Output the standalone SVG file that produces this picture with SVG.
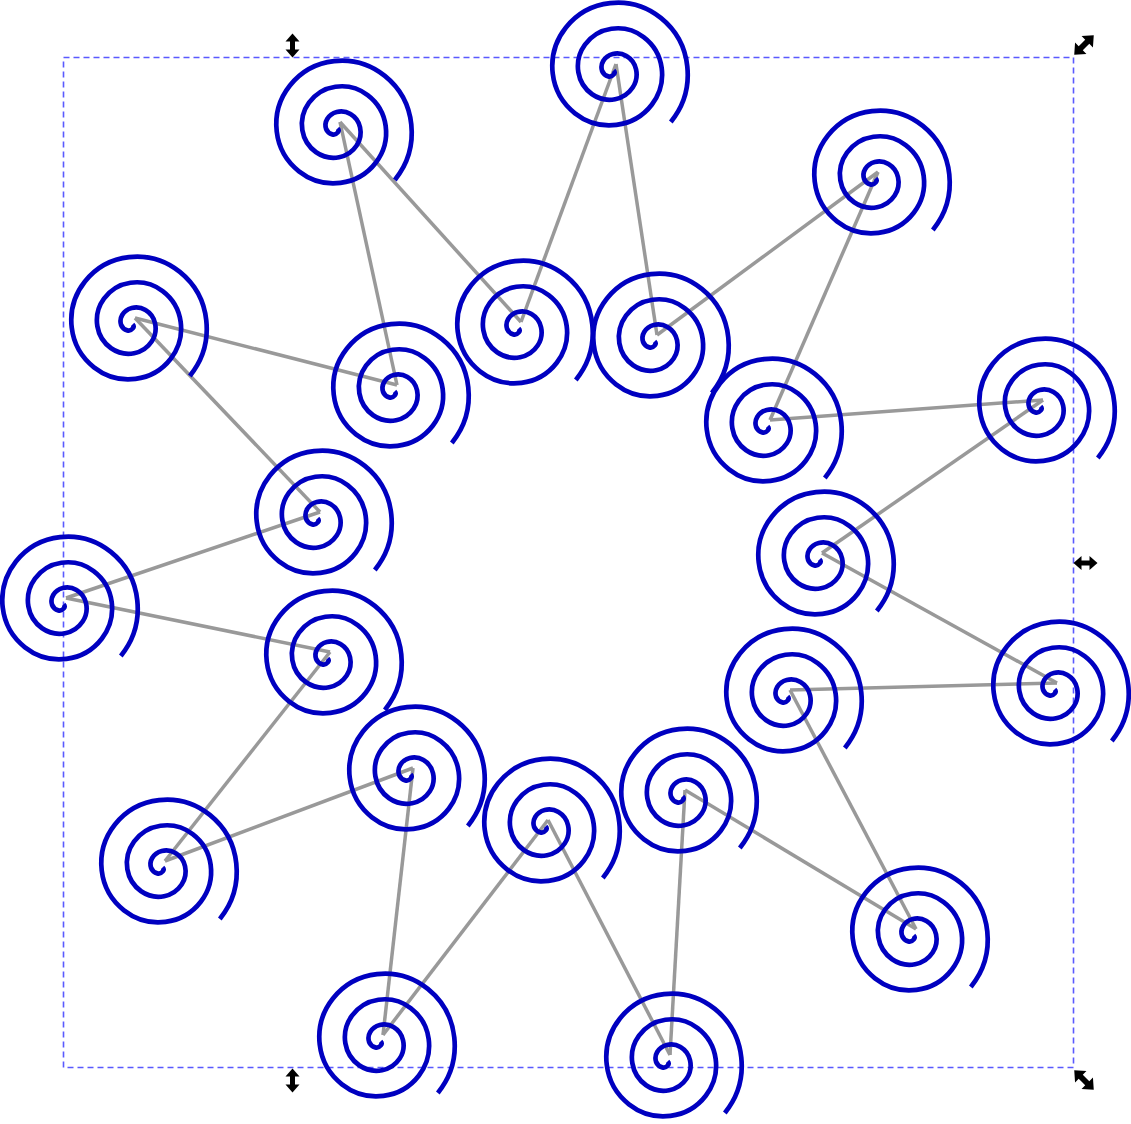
<svg xmlns="http://www.w3.org/2000/svg" xmlns:xlink="http://www.w3.org/1999/xlink" width="1131" height="1124" viewBox="0 0 1131 1124">
<style>
.conn line{stroke:#999999;stroke-width:3.5;fill:none}
.spiral{fill:none;stroke:#0000c0;stroke-width:4.7}
.bbox{fill:none;stroke:#5a5aff;stroke-width:1.6;stroke-dasharray:6,4}
.handle{fill:#000}
</style>
<defs>
<path id="sp" class="spiral" transform="translate(-2.4,6.4)" d="M0,0 A3,3 0 0 1 0.21,3.99 A5.5,5.5 0 0 1 -5.35,5.94 A9,9 0 0 1 -11.48,0.6 A12,12 0 0 1 -10.4,-9.37 A15,15 0 0 1 -0.86,-16.48 A17.5,17.5 0 0 1 12.88,-14.31 A20.6,20.6 0 0 1 22.43,-1.18 A23.9,23.9 0 0 1 19.07,17.17 A27.1,27.1 0 0 1 1.51,28.84 A30.4,30.4 0 0 1 -21.47,23.84 A33.6,33.6 0 0 1 -35.24,1.85 A36.8,36.8 0 0 1 -28.61,-25.76 A40,40 0 0 1 -2.18,-41.65 A43.2,43.2 0 0 1 30.05,-33.38 A46.4,46.4 0 0 1 48.06,-2.52 A49.6,49.6 0 0 1 38.15,34.35 A52.8,52.8 0 0 1 2.85,54.47 A56,56 0 0 1 -38.64,42.91 A59.2,59.2 0 0 1 -60.87,3.19 A62.4,62.4 0 0 1 -47.68,-42.93 A65.6,65.6 0 0 1 -3.52,-67.28 A68.8,68.8 0 0 1 47.23,-52.45 A72,72 0 0 1 73.69,-3.86 A75.2,75.2 0 0 1 57.22,51.52"/>
<path id="dbl" d="M0,-12 L7,-4 L2.5,-4 L2.5,4 L7,4 L0,12 L-7,4 L-2.5,4 L-2.5,-4 L-7,-4 Z"/>
</defs>
<rect class="bbox" x="63.5" y="57.5" width="1010" height="1010"/>
<g id="connectors" class="conn">
<line x1="340" y1="122" x2="521" y2="322"/>
<line x1="340" y1="122" x2="397" y2="385"/>
<line x1="616" y1="64" x2="521" y2="322"/>
<line x1="616" y1="64" x2="657" y2="335"/>
<line x1="878" y1="172" x2="657" y2="335"/>
<line x1="878" y1="172" x2="770" y2="420"/>
<line x1="135" y1="318" x2="397" y2="385"/>
<line x1="135" y1="318" x2="320" y2="512"/>
<line x1="1043" y1="400" x2="770" y2="420"/>
<line x1="1043" y1="400" x2="822" y2="553"/>
<line x1="66" y1="598" x2="320" y2="512"/>
<line x1="66" y1="598" x2="330" y2="652"/>
<line x1="1057" y1="683" x2="822" y2="553"/>
<line x1="1057" y1="683" x2="790" y2="690"/>
<line x1="165" y1="861" x2="330" y2="652"/>
<line x1="165" y1="861" x2="413" y2="768"/>
<line x1="916" y1="929" x2="790" y2="690"/>
<line x1="916" y1="929" x2="685" y2="790"/>
<line x1="383" y1="1035" x2="413" y2="768"/>
<line x1="383" y1="1035" x2="548" y2="820"/>
<line x1="670" y1="1055" x2="548" y2="820"/>
<line x1="670" y1="1055" x2="685" y2="790"/>
</g>
<g id="n1"><use xlink:href="#sp" href="#sp" transform="translate(340,122)"/></g>
<g id="n2"><use xlink:href="#sp" href="#sp" transform="translate(616,64)"/></g>
<g id="n3"><use xlink:href="#sp" href="#sp" transform="translate(878,172)"/></g>
<g id="n4"><use xlink:href="#sp" href="#sp" transform="translate(135,318)"/></g>
<g id="n5"><use xlink:href="#sp" href="#sp" transform="translate(397,385)"/></g>
<g id="n6"><use xlink:href="#sp" href="#sp" transform="translate(521,322)"/></g>
<g id="n7"><use xlink:href="#sp" href="#sp" transform="translate(657,335)"/></g>
<g id="n8"><use xlink:href="#sp" href="#sp" transform="translate(770,420)"/></g>
<g id="n9"><use xlink:href="#sp" href="#sp" transform="translate(1043,400)"/></g>
<g id="n10"><use xlink:href="#sp" href="#sp" transform="translate(320,512)"/></g>
<g id="n11"><use xlink:href="#sp" href="#sp" transform="translate(66,598)"/></g>
<g id="n12"><use xlink:href="#sp" href="#sp" transform="translate(822,553)"/></g>
<g id="n13"><use xlink:href="#sp" href="#sp" transform="translate(330,652)"/></g>
<g id="n14"><use xlink:href="#sp" href="#sp" transform="translate(1057,683)"/></g>
<g id="n15"><use xlink:href="#sp" href="#sp" transform="translate(790,690)"/></g>
<g id="n16"><use xlink:href="#sp" href="#sp" transform="translate(413,768)"/></g>
<g id="n17"><use xlink:href="#sp" href="#sp" transform="translate(685,790)"/></g>
<g id="n18"><use xlink:href="#sp" href="#sp" transform="translate(548,820)"/></g>
<g id="n19"><use xlink:href="#sp" href="#sp" transform="translate(165,861)"/></g>
<g id="n20"><use xlink:href="#sp" href="#sp" transform="translate(916,929)"/></g>
<g id="n21"><use xlink:href="#sp" href="#sp" transform="translate(383,1035)"/></g>
<g id="n22"><use xlink:href="#sp" href="#sp" transform="translate(670,1055)"/></g>
<g id="handles" class="handle">
<use xlink:href="#dbl" href="#dbl" transform="translate(292.5,45.5)"/>
<use xlink:href="#dbl" href="#dbl" transform="translate(292.5,1080.5)"/>
<use xlink:href="#dbl" href="#dbl" transform="translate(1085.5,563) rotate(90)"/>
<use xlink:href="#dbl" href="#dbl" transform="translate(1084,45) rotate(45) scale(1.15)"/>
<use xlink:href="#dbl" href="#dbl" transform="translate(1084,1080) rotate(-45) scale(1.15)"/>
</g>
</svg>
